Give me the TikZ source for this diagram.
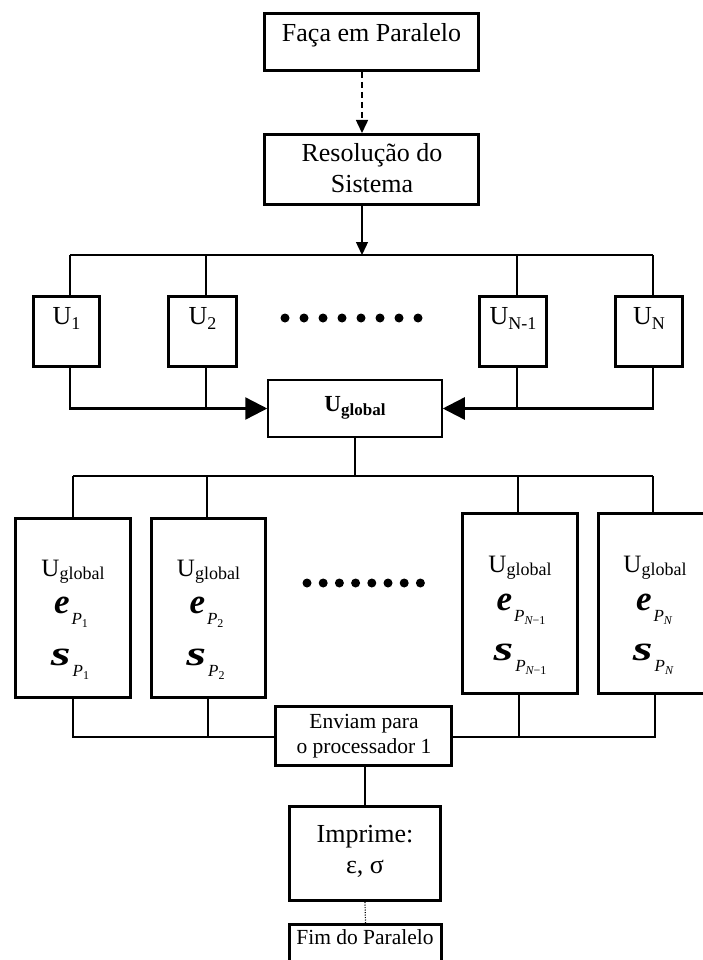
\documentclass[tikz,border=0pt]{standalone}
\usepackage{fontspec}
\usepackage{graphicx}
\setmainfont{Liberation Serif}
\usetikzlibrary{arrows.meta}

% U with a lowered index
\newcommand\mkU[1]{{\fontsize{26}{26}\selectfont U\raisebox{-5pt}{\fontsize{18}{18}\selectfont #1}}}
% U_global in plain text
\newcommand\mkUglob{{\fontsize{25}{25}\selectfont U\raisebox{-3pt}{\fontsize{18}{18}\selectfont global}}}
% bold letter with index P_k
\newcommand\mkPvec[3]{{\fontsize{35}{35}\selectfont\bfseries\itshape\scalebox{#2}[1]{#1}}\hspace{2pt}\raisebox{-11pt}{\fontsize{17}{17}\selectfont\itshape P\raisebox{-3pt}{\fontsize{12}{12}\selectfont #3}}}

\begin{document}
\begin{tikzpicture}[x=1pt,y=-1pt,
  box/.style={draw, line width=3pt, inner sep=0pt, fill=white},
  thinbox/.style={draw, line width=1.5pt, inner sep=0pt, fill=white},
  thinln/.style={line width=1.3pt},
  medln/.style={line width=2.4pt},
  dashln/.style={line width=1.5pt, dash pattern=on 6pt off 4pt},
  dotln/.style={line width=1.2pt, dash pattern=on 1pt off 1.5pt},
  lbl/.style={inner sep=0pt, anchor=base},
  f26/.style={font=\fontsize{26}{30}\selectfont},
  f21/.style={font=\fontsize{21.5}{25}\selectfont},
  bigtip/.style={-{Triangle[length=22pt,width=22pt]}},
  smalltip/.style={-{Triangle[length=13pt,width=12pt]}}]

\useasboundingbox (0,0) rectangle (703,960);
\clip (0,0) rectangle (703,960);
\fill[white] (0,0) rectangle (703,960);

% ---------- boxes ----------
\node[box, minimum width=214pt, minimum height=57pt] (faca) at (371.5,42) {};
\node[box, minimum width=214pt, minimum height=70pt] (resol) at (371.5,169.5) {};

\node[box, minimum width=66pt, minimum height=70pt] (u1)  at (66.5,331.5) {};
\node[box, minimum width=68pt, minimum height=70pt] (u2)  at (202.5,331.5) {};
\node[box, minimum width=67pt, minimum height=70pt] (uN1) at (513,331.5) {};
\node[box, minimum width=67pt, minimum height=70pt] (uN)  at (649,331.5) {};

\node[thinbox, minimum width=174pt, minimum height=57pt] (uglob) at (355,408.5) {};

\node[box, minimum width=115pt, minimum height=179pt] (p1)  at (73,608) {};
\node[box, minimum width=114pt, minimum height=179pt] (p2)  at (208.5,608) {};
\node[box, minimum width=115pt, minimum height=180pt] (pN1) at (520,603.5) {};
\node[box, minimum width=115pt, minimum height=180pt] (pN)  at (656,603.5) {};

\node[box, minimum width=176pt, minimum height=59pt] (env) at (363.5,736) {};
\node[box, minimum width=151pt, minimum height=94pt] (imp) at (365,853.5) {};
\node[box, minimum width=152pt, minimum height=55pt] (fim) at (365.5,952) {};

% ---------- junction points ----------
\coordinate (ax) at (362,100);
\coordinate (d1) at (70,255);
\coordinate (d2) at (206,255);
\coordinate (d3) at (517,255);
\coordinate (d4) at (653,255);
\coordinate (e1) at (73,476);
\coordinate (e2) at (207,476);
\coordinate (e3) at (518,476);
\coordinate (e4) at (653,476);
\coordinate (g1) at (73,737);
\coordinate (g2) at (208,737);
\coordinate (g3) at (519,737);
\coordinate (g4) at (655,737);

% ---------- connectors ----------
\draw[dashln, smalltip] (faca.south -| ax) -- (resol.north -| ax);
\draw[thinln, smalltip] (resol.south -| ax) -- (ax |- d1);

\draw[thinln] (d1) -- (d4);
\draw[thinln] (d1) -- (d1 |- u1.north);
\draw[thinln] (d2) -- (d2 |- u2.north);
\draw[thinln] (d3) -- (d3 |- uN1.north);
\draw[thinln] (d4) -- (d4 |- uN.north);

\draw[medln, bigtip] (d1 |- u1.south) -- (d1 |- uglob.west) -- (uglob.west);
\draw[medln] (d2 |- u2.south) -- (d2 |- uglob.west);
\draw[medln, bigtip] (d4 |- uN.south) -- (d4 |- uglob.east) -- (uglob.east);
\draw[medln] (d3 |- uN1.south) -- (d3 |- uglob.east);

\draw[medln] (uglob.south) -- (uglob.south |- e1);
\draw[medln] (e1) -- (e4);
\draw[medln] (e1) -- (e1 |- p1.north);
\draw[medln] (e2) -- (e2 |- p2.north);
\draw[medln] (e3) -- (e3 |- pN1.north);
\draw[medln] (e4) -- (e4 |- pN.north);

\draw[medln] (g1 |- p1.south) -- (g1) -- (g1 -| env.west);
\draw[medln] (g2 |- p2.south) -- (g2);
\draw[medln] (g4 |- pN.south) -- (g4) -- (g4 -| env.east);
\draw[medln] (g3 |- pN1.south) -- (g3);

\draw[medln] (imp.north |- env.south) -- (imp.north);
\draw[dotln] (imp.south) -- (fim.north);

% ---------- rows of dots ----------
\foreach \i in {0,...,7} \fill (285+\i*19,318) circle (4.5);
\foreach \i in {0,...,7} \fill (307+\i*16.2,583) circle (4.5);

% ---------- texts ----------
\node[lbl, f26] (tfaca) at (371.5,42) {Faça em Paralelo};
\node[lbl, f26] (tres1) at (372,162) {Resolução do};
\node[lbl, f26] (tres2) at (372,193) {Sistema};

\node[lbl] (tu1)  at (66.5,324) {\mkU{1}};
\node[lbl] (tu2)  at (202.5,324) {\mkU{2}};
\node[lbl] (tuN1) at (513,324) {\mkU{N-1}};
\node[lbl] (tuN)  at (649,324) {\mkU{N}};

\node[lbl] (tug) at (355,411) {\bfseries\fontsize{23}{23}\selectfont U\raisebox{-4pt}{\fontsize{17}{17}\selectfont global}};

\node[lbl] (tp1a) at (73,576) {\mkUglob};
\node[lbl] (tp1b) at (71,613) {\mkPvec{e}{1}{\upshape 1}};
\node[lbl] (tp1c) at (70,665) {\mkPvec{s}{1.45}{\upshape 1}};

\node[lbl] (tp2a) at (208.5,576) {\mkUglob};
\node[lbl] (tp2b) at (206.5,613) {\mkPvec{e}{1}{\upshape 2}};
\node[lbl] (tp2c) at (205.5,665) {\mkPvec{s}{1.45}{\upshape 2}};

\node[lbl] (tp3a) at (520,572) {\mkUglob};
\node[lbl] (tp3b) at (521,610) {\mkPvec{e}{1}{N\upshape\char"2212 1}};
\node[lbl] (tp3c) at (520,660) {\mkPvec{s}{1.45}{N\upshape\char"2212 1}};

\node[lbl] (tp4a) at (655,572) {\mkUglob};
\node[lbl] (tp4b) at (654,610) {\mkPvec{e}{1}{N}};
\node[lbl] (tp4c) at (653,660) {\mkPvec{s}{1.45}{N}};

\node[lbl, f21] (tenv1) at (364,728) {Enviam para};
\node[lbl, f21] (tenv2) at (364,753) {o processador 1};

\node[lbl, f26] (timp1) at (365,842) {Imprime:};
\node[lbl, f26] (timp2) at (365,873) {ε, σ};

\node[lbl, f21] (tfim) at (365,944) {Fim do Paralelo};
\end{tikzpicture}
\end{document}
